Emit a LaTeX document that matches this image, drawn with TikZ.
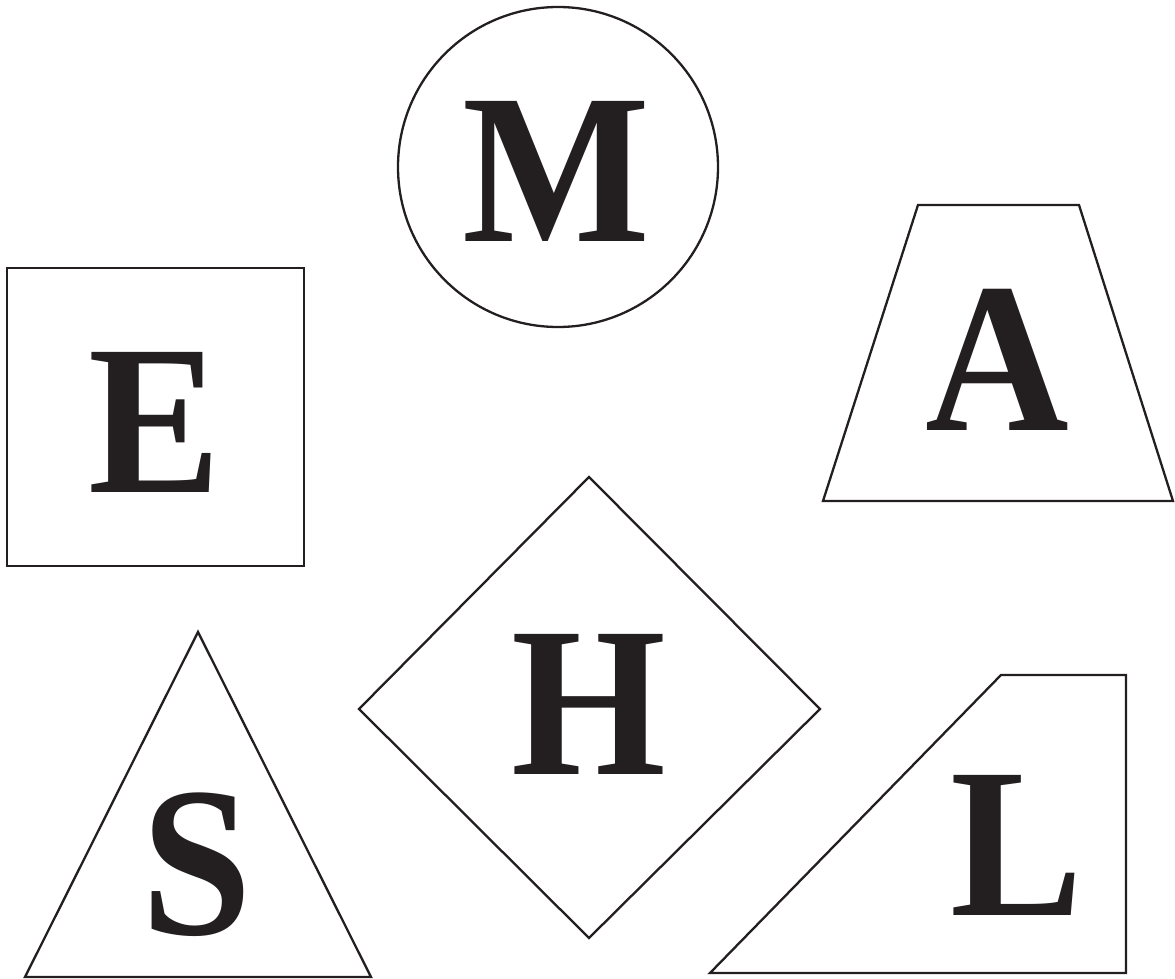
\documentclass[tikz,border=0pt]{standalone}
\usepackage{fontspec}
\setmainfont{Liberation Serif}
\definecolor{ink}{RGB}{35,31,32}

\tikzset{
  outline/.style={draw=ink,line width=1.15pt,line join=miter},
  bigletter/.style={anchor=base,inner sep=0pt,text=ink,
    font=\fontsize{107}{107}\selectfont\bfseries}
}
\newcommand{\narrowglyph}[1]{\scalebox{0.93}[1]{#1}}

\begin{document}
\begin{tikzpicture}[x=0.5pt,y=-0.5pt]
  \useasboundingbox (0,0) rectangle (1175,979);
  % shapes
  \draw[outline] (558,167) circle[radius=160];
  \draw[outline] (7,268) rectangle (304,566);
  \draw[outline] (918,205) -- (1079,205) -- (1173,501) -- (823,501) -- cycle;
  \draw[outline] (589,477) -- (820,709) -- (589,938) -- (359,709) -- cycle;
  \draw[outline] (198,632) -- (371,977) -- (25,977) -- cycle;
  \draw[outline] (1001,675) -- (1126,675) -- (1126,973) -- (710,973) -- cycle;
  % letters
  \foreach \name/\x/\y in {M/556/242,E/155/493,A/997/430,H/589/774,S/197/934,L/1017/915}{
    \node[bigletter] (let\name) at (\x,\y) {\narrowglyph{\name}};
  }
\end{tikzpicture}
\end{document}
